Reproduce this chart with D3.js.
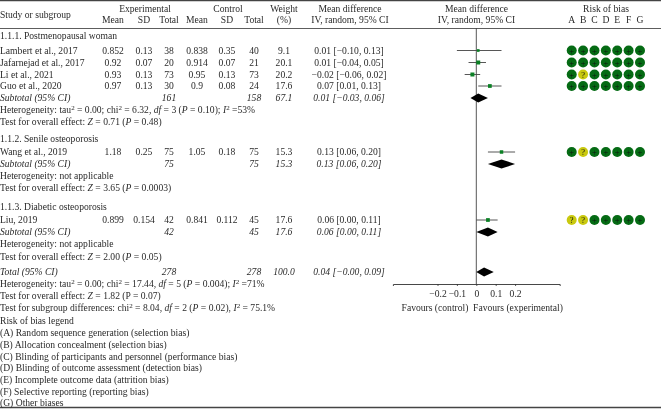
<!DOCTYPE html>
<html>
<head>
<meta charset="utf-8">
<script src="https://cdn.jsdelivr.net/npm/d3@7"></script>
<style>
  html, body { margin: 0; padding: 0; background: #fff; }
  svg { display: block; filter: blur(0.3px); }
  text { font-family: "Liberation Serif", serif; font-size: 9.6px; fill: #2a2a2a; }
  .it { font-style: italic; }
</style>
</head>
<body>
<script>
// data
const studies = ["Lambert et al., 2017", "Jafarnejad et al., 2017", "Li et al., 2021", "Guo et al., 2020", "Wang et al., 2019", "Liu, 2019"];
const expMean = ["0.852", "0.92", "0.93", "0.97", "1.18", "0.899"];
const expSD = ["0.13", "0.07", "0.13", "0.13", "0.25", "0.154"];
const expTotal = [38, 20, 73, 30, 75, 42];
const ctlMean = ["0.838", "0.914", "0.95", "0.9", "1.05", "0.841"];
const ctlSD = ["0.35", "0.07", "0.13", "0.08", "0.18", "0.112"];
const ctlTotal = [40, 21, 73, 24, 75, 45];
const weights = [9.1, 20.1, 20.2, 17.6, 15.3, 17.6];
const md = [0.01, 0.01, -0.02, 0.07, 0.13, 0.06];
const ciLow = [-0.10, -0.04, -0.06, 0.01, 0.06, 0.00];
const ciHigh = [0.13, 0.05, 0.02, 0.13, 0.20, 0.11];
const risk = ["+++++++", "+++++++", "+?+++++", "+++++++", "+?+++++", "??+++++"];

const pooledLabels = ["Subtotal (95% CI)", "Subtotal (95% CI)", "Subtotal (95% CI)", "Total (95% CI)"];
const pooledExp = [161, 75, 42, 278];
const pooledCtl = [158, 75, 45, 278];
const pooledWeight = ["67.1", "15.3", "17.6", "100.0"];
const pooledMd = [0.01, 0.13, 0.06, 0.04];
const pooledLow = [-0.03, 0.06, 0.00, -0.00];
const pooledHigh = [0.06, 0.20, 0.11, 0.09];

const groupTitles = ["1.1.1. Postmenopausal woman", "1.1.2. Senile osteoporosis", "1.1.3. Diabetic osteoporosis"];
const notes = [
  "Heterogeneity: tau^2^ = 0.00; chi^2^ = 6.32, _df_ = 3 (_P_ = 0.10); _I_^2^ =53%",
  "Test for overall effect: _Z_ = 0.71 (_P_ = 0.48)",
  "Heterogeneity: not applicable",
  "Test for overall effect: _Z_ = 3.65 (_P_ = 0.0003)",
  "Heterogeneity: not applicable",
  "Test for overall effect: _Z_ = 2.00 (_P_ = 0.05)",
  "Heterogeneity: tau^2^ = 0.00; chi^2^ = 17.44, _df_ = 5 (_P_ = 0.004); _I_^2^ =71%",
  "Test for overall effect: _Z_ = 1.82 (P = 0.07)",
  "Test for subgroup differences: chi^2^ = 8.04, _df_ = 2 (_P_ = 0.02), _I_^2^ = 75.1%",
  "Risk of bias legend",
  "(A) Random sequence generation (selection bias)",
  "(B) Allocation concealment (selection bias)",
  "(C) Blinding of participants and personnel (performance bias)",
  "(D) Blinding of outcome assessment (detection bias)",
  "(E) Incomplete outcome data (attrition bias)",
  "(F) Selective reporting (reporting bias)",
  "(G) Other biases"
];
const riskLetters = ["A", "B", "C", "D", "E", "F", "G"];
const axisTicks = [-0.2, -0.1, 0, 0.1, 0.2];

// layout
const width = 661, height = 410;
const studyY = [50.5, 62.5, 74.5, 86, 152, 220];
const pooledY = [98, 164, 232, 272];
const groupY = [36, 139, 207];
const noteY = [110, 122, 176, 187.5, 244, 257, 284, 296, 308, 321, 333, 345, 356.5, 368, 380, 392, 403];
const col = { mean1: 113, sd1: 144, tot1: 169, mean2: 197, sd2: 227, tot2: 254, weight: 284, ci: 349 };
const axisY = 284;

const svg = d3.select("body").append("svg")
    .attr("width", width)
    .attr("height", height);

const x = d3.scaleLinear().domain([-0.43, 0.43]).range([392.9, 559.7]);
const size = d3.scaleSqrt().domain([0, 20.2]).range([0, 4]);
const riskX = d3.scalePoint().domain(riskLetters).range([571.7, 640]);

const minus = (s) => String(s).replace("-", "\u2212");
const ciText = (m, l, h) => minus(m.toFixed(2)) + " [" + minus(l.toFixed(2)) + ", " + minus(h.toFixed(2)) + "]";

function put(px, py, str, anchor, cls) {
    return svg.append("text")
        .attr("x", px)
        .attr("y", py + 3)
        .attr("text-anchor", anchor || "start")
        .attr("class", cls || null)
        .text(str);
}

// "_x_" is italic, "^x^" is a superscript
function putRich(px, py, str) {
    const t = svg.append("text").attr("x", px).attr("y", py + 3);
    let shift = 0;
    str.split(/(_[^_]+_|\^[^^]+\^)/).filter(s => s.length).forEach((part) => {
        if (part[0] === "_") {
            t.append("tspan").attr("class", "it").attr("dy", shift).text(part.slice(1, -1));
            shift = 0;
        } else if (part[0] === "^") {
            t.append("tspan").attr("dy", -3.5).style("font-size", "7px").text(part.slice(1, -1));
            shift = 3.5;
        } else {
            t.append("tspan").attr("dy", shift).text(part);
            shift = 0;
        }
    });
}

// rules
[[0.5, 0, width], [28.5, 0, width], [407.5, 0, width]].forEach((r, i) => {
    svg.append("line")
        .attr("x1", r[1]).attr("x2", r[2])
        .attr("y1", r[0]).attr("y2", r[0])
        .attr("stroke", i == 1 ? "#333" : "#444")
        .attr("stroke-width", i == 1 ? 0.8 : 1.4);
});

// header
put(0, 15, "Study or subgroup");
put(145, 9, "Experimental", "middle");
put(228, 9, "Control", "middle");
put(284, 9, "Weight", "middle");
put(284, 20, "(%)", "middle");
put(350, 9, "Mean difference", "middle");
put(350, 20, "IV, random, 95% CI", "middle");
put(476.5, 9, "Mean difference", "middle");
put(476.5, 20, "IV, random, 95% CI", "middle");
put(606, 9, "Risk of bias", "middle");
[["Mean", col.mean1], ["SD", col.sd1], ["Total", col.tot1], ["Mean", col.mean2], ["SD", col.sd2], ["Total", col.tot2]].forEach((h) => {
    put(h[1], 20, h[0], "middle");
});
riskLetters.forEach((l) => put(riskX(l), 20, l, "middle"));

groupTitles.forEach((g, i) => put(0, groupY[i], g));
notes.forEach((n, i) => putRich(0, noteY[i], n));

// study rows
studies.forEach((s, i) => {
    const y = studyY[i];
    put(0, y, s);
    put(col.mean1, y, expMean[i], "middle");
    put(col.sd1, y, expSD[i], "middle");
    put(col.tot1, y, expTotal[i], "middle");
    put(col.mean2, y, ctlMean[i], "middle");
    put(col.sd2, y, ctlSD[i], "middle");
    put(col.tot2, y, ctlTotal[i], "middle");
    put(col.weight, y, weights[i].toFixed(1), "middle");
    put(col.ci, y, ciText(md[i], ciLow[i], ciHigh[i]), "middle");
});

// pooled rows
pooledLabels.forEach((s, i) => {
    const y = pooledY[i];
    put(0, y, s, "start", "it");
    put(col.tot1, y, pooledExp[i], "middle", "it");
    put(col.tot2, y, pooledCtl[i], "middle", "it");
    put(col.weight, y, pooledWeight[i], "middle", "it");
    put(col.ci, y, i == 3 ? "0.04 [\u22120.00, 0.09]" : ciText(pooledMd[i], pooledLow[i], pooledHigh[i]), "middle", "it");
});

// forest plot
svg.append("line")
    .attr("x1", x(0)).attr("x2", x(0))
    .attr("y1", 28).attr("y2", axisY)
    .attr("stroke", "#444")
    .attr("stroke-width", 0.9);

svg.selectAll(".ci").data(studies).enter().append("line")
    .attr("class", "ci")
    .attr("x1", (d, i) => x(ciLow[i]))
    .attr("x2", (d, i) => x(ciHigh[i]))
    .attr("y1", (d, i) => studyY[i])
    .attr("y2", (d, i) => studyY[i])
    .attr("stroke", "#444")
    .attr("stroke-width", 0.9);

svg.selectAll(".sq").data(studies).enter().append("rect")
    .attr("class", "sq")
    .attr("x", (d, i) => x(md[i]) - size(weights[i]) / 2)
    .attr("y", (d, i) => studyY[i] - size(weights[i]) / 2)
    .attr("width", (d, i) => size(weights[i]))
    .attr("height", (d, i) => size(weights[i]))
    .attr("fill", "#0a8024");

svg.selectAll(".diamond").data(pooledMd).enter().append("path")
    .attr("class", "diamond")
    .attr("d", (d, i) => {
        const y = pooledY[i], h = 4.6;
        return "M" + x(pooledLow[i]) + "," + y + "L" + x(d) + "," + (y - h) +
            "L" + x(pooledHigh[i]) + "," + y + "L" + x(d) + "," + (y + h) + "Z";
    })
    .attr("fill", "#000");

const axis = d3.axisBottom(x)
    .tickValues(axisTicks)
    .tickSize(2)
    .tickPadding(4)
    .tickFormat((d) => minus(d));
const axisG = svg.append("g")
    .attr("transform", "translate(0," + axisY + ")")
    .call(axis);
axisG.select(".domain").attr("stroke", "#333").attr("stroke-width", 0.9);
axisG.selectAll(".tick line").attr("stroke", "#333").attr("stroke-width", 0.8);
axisG.selectAll(".tick text").attr("fill", null);

put(435, 308, "Favours (control)", "middle");
put(518, 308, "Favours (experimental)", "middle");

// risk of bias dots
risk.forEach((r, i) => {
    r.split("").forEach((c, j) => {
        const cx = riskX(riskLetters[j]);
        svg.append("circle")
            .attr("cx", cx)
            .attr("cy", studyY[i])
            .attr("r", 5)
            .attr("fill", c == "+" ? "#056b14" : "#c9c90f");
        svg.append("text")
            .attr("x", cx)
            .attr("y", studyY[i] + 3)
            .attr("text-anchor", "middle")
            .style("font-size", "8.5px")
            .style("fill", "#111")
            .text(c);
    });
});
</script>
</body>
</html>
